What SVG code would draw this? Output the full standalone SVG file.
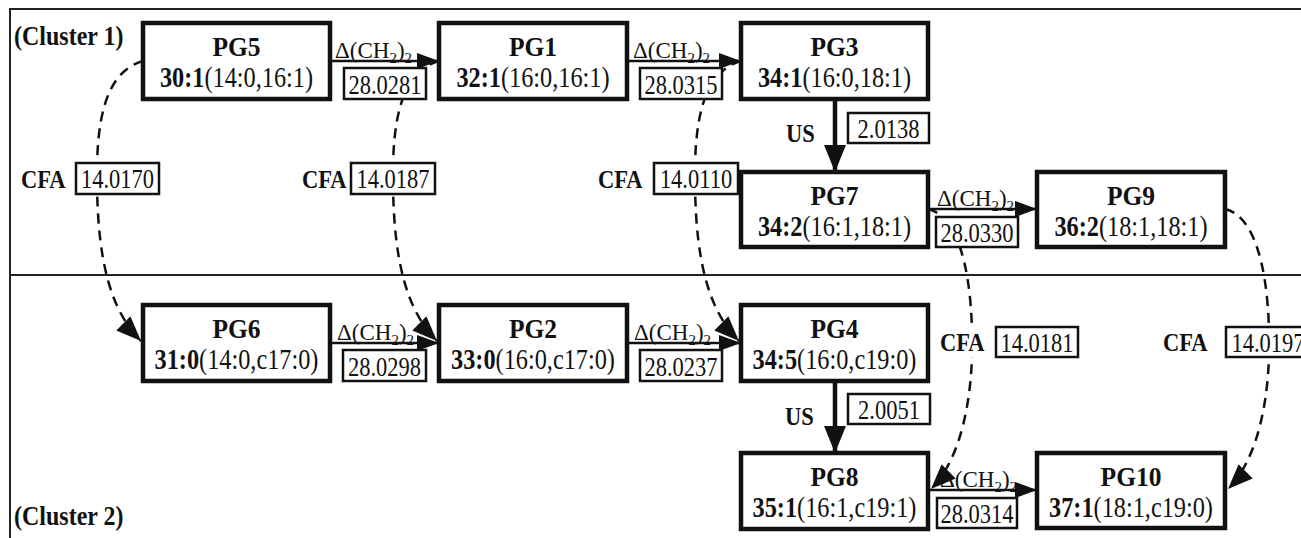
<svg xmlns="http://www.w3.org/2000/svg" width="1301" height="538" viewBox="0 0 1301 538">
<style>
text{font-family:"Liberation Serif","Times New Roman",serif;fill:#111;}
.node{fill:#fff;stroke:#111;stroke-width:4.5;}
.nm{font-size:25.5px;font-weight:bold;text-anchor:middle;}
.dt{font-size:24.3px;text-anchor:middle;}
.b{font-weight:bold;}
.lbox{fill:#fff;stroke:#111;stroke-width:2.5;}
.num{font-size:22.5px;text-anchor:middle;}
.bl{font-size:22.5px;font-weight:bold;}
.cl{font-size:24px;font-weight:bold;}
.dl{font-size:23px;}
.frame{stroke:#222;stroke-width:2;fill:none;}
.h{stroke:#111;stroke-width:2.5;fill:none;marker-end:url(#ah);}
.us{stroke:#111;stroke-width:4.5;fill:none;marker-end:url(#au);}
.cfa{stroke:#111;stroke-width:2.5;fill:none;stroke-dasharray:10 7;marker-end:url(#ad);}
</style>
<defs>
<marker id="ah" markerUnits="userSpaceOnUse" markerWidth="22" markerHeight="16" viewBox="0 0 22 16" refX="22" refY="8" orient="auto"><path d="M0,0 L22,8 L0,16 z" fill="#111"/></marker>
<marker id="au" markerUnits="userSpaceOnUse" markerWidth="27" markerHeight="22" viewBox="0 0 27 22" refX="27" refY="11" orient="auto"><path d="M0,0 L27,11 L0,22 z" fill="#111"/></marker>
<marker id="ad" markerUnits="userSpaceOnUse" markerWidth="25" markerHeight="20" viewBox="0 0 25 20" refX="25" refY="10" orient="auto"><path d="M0,0 L25,10 L0,20 z" fill="#111"/></marker>
</defs>
<rect width="1301" height="538" fill="#fff"/>
<g id="frame">
<path class="frame" d="M10,538 L10,9 L1301,9"/>
<path class="frame" d="M10,275 L1301,275"/>
<text transform="translate(14,45) scale(1,1.1)" class="cl">(Cluster 1)</text>
<text transform="translate(14,525) scale(1,1.1)" class="cl">(Cluster 2)</text>
</g>
<g id="delta-labels">
<text x="335" y="58" class="dl">Δ(CH<tspan font-size="15" dy="5">2</tspan><tspan dy="-5">)</tspan><tspan font-size="15" dy="5">2</tspan></text>
<text x="633" y="58" class="dl">Δ(CH<tspan font-size="15" dy="5">2</tspan><tspan dy="-5">)</tspan><tspan font-size="15" dy="5">2</tspan></text>
<text x="937" y="206" class="dl">Δ(CH<tspan font-size="15" dy="5">2</tspan><tspan dy="-5">)</tspan><tspan font-size="15" dy="5">2</tspan></text>
<text x="337" y="340" class="dl">Δ(CH<tspan font-size="15" dy="5">2</tspan><tspan dy="-5">)</tspan><tspan font-size="15" dy="5">2</tspan></text>
<text x="634" y="340" class="dl">Δ(CH<tspan font-size="15" dy="5">2</tspan><tspan dy="-5">)</tspan><tspan font-size="15" dy="5">2</tspan></text>
<text x="940" y="487" class="dl">Δ(CH<tspan font-size="15" dy="5">2</tspan><tspan dy="-5">)</tspan><tspan font-size="15" dy="5">2</tspan></text>
</g>
<g id="connectors">
<path class="cfa" d="M143,61 C105,72 96,120 97,185 C98,260 110,310 141,341"/>
<path class="cfa" d="M439,61 C401,72 392,120 393,185 C394,260 406,310 437,341"/>
<path class="cfa" d="M741,61 C703,72 694,120 695,185 C696,260 708,310 739,341"/>
<path class="cfa" d="M928,209 C955,215 970,260 972,330 C974,400 960,460 931,489"/>
<path class="cfa" d="M1225,209 C1252,215 1267,260 1269,330 C1271,400 1257,460 1228,489"/>
<path class="h" d="M330,61 L439,61"/>
<path class="h" d="M627,61 L741,61"/>
<path class="h" d="M928,209 L1037,209"/>
<path class="h" d="M330,343 L439,343"/>
<path class="h" d="M627,343 L741,343"/>
<path class="h" d="M928,490 L1037,490"/>
<path class="us" d="M835,99 L835,172"/>
<path class="us" d="M835,381 L835,453"/>
</g>
<g id="PG5"><rect class="node" x="143" y="23" width="187" height="76"/><text class="nm" transform="translate(236.5,56) scale(1,1.1)">PG5</text><text class="dt" transform="translate(236.5,87) scale(1,1.2)"><tspan class="b">30:1</tspan>(14:0,16:1)</text></g>
<g id="PG1"><rect class="node" x="439" y="23" width="188" height="76"/><text class="nm" transform="translate(533,56) scale(1,1.1)">PG1</text><text class="dt" transform="translate(533,87) scale(1,1.2)"><tspan class="b">32:1</tspan>(16:0,16:1)</text></g>
<g id="PG3"><rect class="node" x="741" y="23" width="187" height="76"/><text class="nm" transform="translate(834.5,56) scale(1,1.1)">PG3</text><text class="dt" transform="translate(834.5,87) scale(1,1.2)"><tspan class="b">34:1</tspan>(16:0,18:1)</text></g>
<g id="PG7"><rect class="node" x="741" y="172" width="187" height="75"/><text class="nm" transform="translate(834.5,205) scale(1,1.1)">PG7</text><text class="dt" transform="translate(834.5,236) scale(1,1.2)"><tspan class="b">34:2</tspan>(16:1,18:1)</text></g>
<g id="PG9"><rect class="node" x="1037" y="172" width="188" height="75"/><text class="nm" transform="translate(1131,205) scale(1,1.1)">PG9</text><text class="dt" transform="translate(1131,236) scale(1,1.2)"><tspan class="b">36:2</tspan>(18:1,18:1)</text></g>
<g id="PG6"><rect class="node" x="143" y="305" width="187" height="76"/><text class="nm" transform="translate(236.5,338) scale(1,1.1)">PG6</text><text class="dt" transform="translate(236.5,369) scale(1,1.2)"><tspan class="b">31:0</tspan>(14:0,c17:0)</text></g>
<g id="PG2"><rect class="node" x="439" y="305" width="188" height="76"/><text class="nm" transform="translate(533,338) scale(1,1.1)">PG2</text><text class="dt" transform="translate(533,369) scale(1,1.2)"><tspan class="b">33:0</tspan>(16:0,c17:0)</text></g>
<g id="PG4"><rect class="node" x="741" y="305" width="187" height="76"/><text class="nm" transform="translate(834.5,338) scale(1,1.1)">PG4</text><text class="dt" transform="translate(834.5,369) scale(1,1.2)"><tspan class="b">34:5</tspan>(16:0,c19:0)</text></g>
<g id="PG8"><rect class="node" x="741" y="453" width="187" height="76"/><text class="nm" transform="translate(834.5,486) scale(1,1.1)">PG8</text><text class="dt" transform="translate(834.5,517) scale(1,1.2)"><tspan class="b">35:1</tspan>(16:1,c19:1)</text></g>
<g id="PG10"><rect class="node" x="1037" y="453" width="188" height="75"/><text class="nm" transform="translate(1131,486) scale(1,1.1)">PG10</text><text class="dt" transform="translate(1131,517) scale(1,1.2)"><tspan class="b">37:1</tspan>(18:1,c19:0)</text></g>
<g id="edge-labels">
<rect class="lbox" x="344" y="68" width="82" height="31"/><text class="num" transform="translate(385,93.5) scale(1,1.25)">28.0281</text>
<rect class="lbox" x="640" y="68" width="82" height="31"/><text class="num" transform="translate(681,93.5) scale(1,1.25)">28.0315</text>
<rect class="lbox" x="936" y="217" width="82" height="30"/><text class="num" transform="translate(977,242) scale(1,1.25)">28.0330</text>
<rect class="lbox" x="343" y="350" width="83" height="31"/><text class="num" transform="translate(384.5,375.5) scale(1,1.25)">28.0298</text>
<rect class="lbox" x="640" y="350" width="82" height="31"/><text class="num" transform="translate(681,375.5) scale(1,1.25)">28.0237</text>
<rect class="lbox" x="937" y="498" width="80" height="30"/><text class="num" transform="translate(977,523) scale(1,1.25)">28.0314</text>
<text class="bl" transform="translate(786,142) scale(1,1.1)">US</text>
<rect class="lbox" x="848" y="113" width="81" height="30"/><text class="num" transform="translate(888.5,138) scale(1,1.25)">2.0138</text>
<text class="bl" transform="translate(785,425) scale(1,1.1)">US</text>
<rect class="lbox" x="848" y="394" width="82" height="30"/><text class="num" transform="translate(889,419) scale(1,1.25)">2.0051</text>
<text class="bl" transform="translate(21,188) scale(1,1.1)">CFA</text>
<rect class="lbox" x="76" y="163" width="83" height="31"/><text class="num" transform="translate(117.5,188) scale(1,1.25)">14.0170</text>
<text class="bl" transform="translate(302,188) scale(1,1.1)">CFA</text>
<rect class="lbox" x="351" y="163" width="84" height="31"/><text class="num" transform="translate(393,188) scale(1,1.25)">14.0187</text>
<text class="bl" transform="translate(598,188) scale(1,1.1)">CFA</text>
<rect class="lbox" x="654" y="163" width="84" height="31"/><text class="num" transform="translate(696,188) scale(1,1.25)">14.0110</text>
<rect x="938" y="327" width="50" height="30" fill="#fff"/>
<text class="bl" transform="translate(940,351) scale(1,1.1)">CFA</text>
<rect class="lbox" x="996" y="327" width="82" height="30"/><text class="num" transform="translate(1037,352) scale(1,1.25)">14.0181</text>
<text class="bl" transform="translate(1163,351) scale(1,1.1)">CFA</text>
<rect class="lbox" x="1226" y="327" width="84" height="30"/><text class="num" transform="translate(1268,352) scale(1,1.25)">14.0197</text>
</g>
</svg>
